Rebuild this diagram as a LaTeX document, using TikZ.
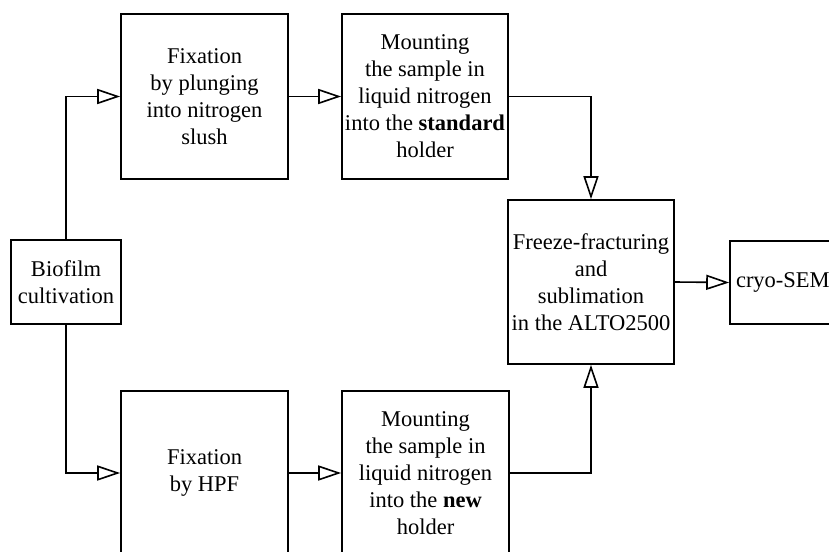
\documentclass[tikz,border=0pt]{standalone}
\usepackage{fontspec}
\setmainfont{Liberation Serif}
\usetikzlibrary{arrows.meta}
\begin{document}
\begin{tikzpicture}[x=1pt,y=-1pt,
  box/.style={draw, line width=1.6pt, inner sep=2pt, align=center,
    font=\fontsize{22.5}{27}\selectfont},
  arr/.style={line width=1.6pt, -{Triangle[open, length=23pt, width=15pt, line width=1.6pt]}}]
\useasboundingbox (0,0) rectangle (829,551);
\clip (0,0) rectangle (829,551);
\node[box, minimum width=110pt, minimum height=84pt] (bio) at (66,282) {Biofilm\\cultivation};
\node[box, minimum width=167pt, minimum height=165pt] (fix1) at (204.5,96.5) {Fixation\\by plunging\\into nitrogen\\slush};
\node[box, minimum width=166pt, minimum height=165pt] (mount1) at (425,96.5) {Mounting\\the sample in\\liquid nitrogen\\into the \textbf{standard}\\holder};
\node[box, minimum width=166pt, minimum height=164pt] (freeze) at (591,282) {Freeze-fracturing\\and\\sublimation\\in the ALTO2500};
\node[box, minimum width=167pt, minimum height=164pt] (fix2) at (204.5,473) {Fixation\\by HPF};
\node[box, minimum width=167pt, minimum height=164pt] (mount2) at (425.5,473) {Mounting\\the sample in\\liquid nitrogen\\into the \textbf{new}\\holder};
\node[box, inner xsep=6pt, text width=104pt, align=left, minimum height=83pt] (cryo) at (788,282.5) {cryo-SEM};
\draw[arr] (bio.north) |- (fix1.west);
\draw[arr] (fix1.east) -- (mount1.west);
\draw[arr] (mount1.east) -| (freeze.north);
\draw[arr] (bio.south) |- (fix2.west);
\draw[arr] (fix2.east) -- (mount2.west);
\draw[arr] (mount2.east) -| (freeze.south);
\draw[arr] (freeze.east) -- (cryo.west);
\end{tikzpicture}
\end{document}
